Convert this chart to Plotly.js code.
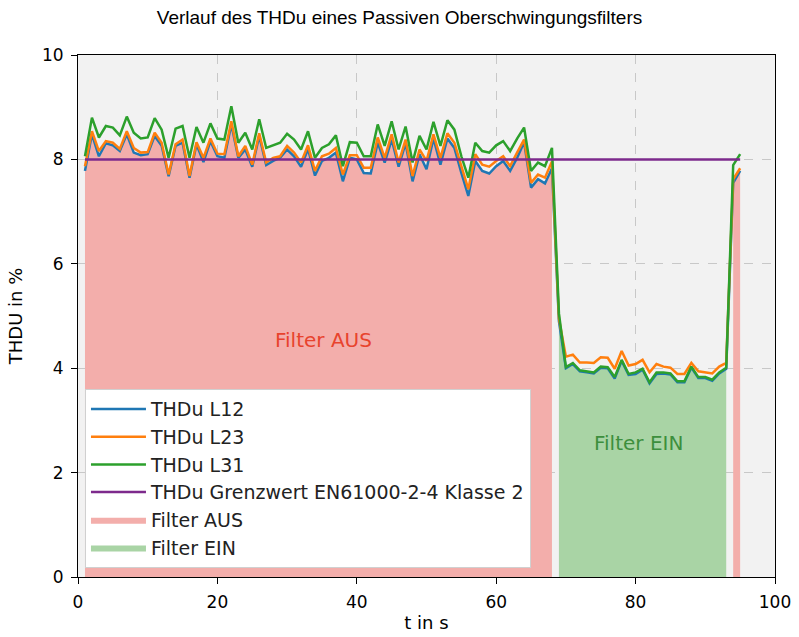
<!DOCTYPE html>
<html>
<head>
<meta charset="utf-8">
<script src="https://cdn.plot.ly/plotly-3.0.1.min.js"></script>
<style>html,body{margin:0;padding:0;background:#fff;}#chart{width:799px;height:637px;}</style>
</head>
<body>
<div id="chart"></div>
<script>
// time in s
const t = [];
for (let i = 1; i <= 95; i++) t.push(i);

const thdL12 = [
  7.78, 8.48, 8.06, 8.31, 8.27, 8.16, 8.48, 8.13, 8.08, 8.10,
  8.45, 8.26, 7.68, 8.26, 8.32, 7.65, 8.29, 7.95, 8.35, 8.06,
  8.03, 8.67, 8.03, 8.19, 7.86, 8.45, 7.89, 7.97, 8.03, 8.19,
  8.06, 7.86, 8.20, 7.69, 7.97, 8.03, 8.13, 7.58, 8.03, 8.00,
  7.74, 7.73, 8.32, 7.94, 8.38, 7.86, 8.31, 7.58, 8.10, 7.81,
  8.40, 7.90, 8.40, 8.22, 7.74, 7.30, 7.97, 7.78, 7.73, 7.87,
  7.97, 7.78, 8.03, 8.33, 7.46, 7.62, 7.54, 7.83,
  4.90, 4.00, 4.08, 3.94, 3.92, 3.90, 4.01, 4.00, 3.80, 4.14,
  3.87, 3.89, 3.97, 3.71, 3.89, 3.90, 3.88, 3.73, 3.73, 4.01,
  3.81, 3.81, 3.76, 3.90, 3.99,
  7.55, 7.78
];
const thdL23 = [
  7.87, 8.54, 8.16, 8.35, 8.32, 8.20, 8.54, 8.22, 8.13, 8.14,
  8.51, 8.32, 7.71, 8.29, 8.38, 7.68, 8.33, 8.03, 8.40, 8.11,
  8.10, 8.73, 8.06, 8.26, 7.90, 8.50, 7.94, 8.03, 8.06, 8.26,
  8.13, 7.94, 8.27, 7.78, 8.06, 8.11, 8.22, 7.71, 8.08, 8.08,
  7.84, 7.84, 8.42, 8.03, 8.48, 7.94, 8.38, 7.68, 8.19, 7.97,
  8.48, 8.03, 8.50, 8.32, 7.87, 7.43, 8.10, 7.90, 7.86, 7.97,
  8.06, 7.87, 8.13, 8.38, 7.55, 7.71, 7.65, 7.96,
  4.95, 4.22, 4.26, 4.11, 4.11, 4.10, 4.21, 4.20, 3.99, 4.33,
  4.05, 4.08, 4.16, 3.92, 4.08, 4.03, 4.01, 3.89, 3.89, 4.10,
  3.94, 3.92, 3.90, 4.03, 4.10,
  7.62, 7.83
];
const thdL31 = [
  8.06, 8.80, 8.42, 8.64, 8.61, 8.46, 8.82, 8.51, 8.40, 8.42,
  8.79, 8.57, 8.03, 8.59, 8.64, 8.03, 8.62, 8.32, 8.69, 8.40,
  8.38, 9.02, 8.32, 8.51, 8.19, 8.77, 8.22, 8.27, 8.32, 8.49,
  8.38, 8.19, 8.54, 8.03, 8.22, 8.29, 8.46, 7.87, 8.33, 8.32,
  8.06, 8.06, 8.67, 8.26, 8.73, 8.19, 8.63, 7.94, 8.45, 8.19,
  8.72, 8.26, 8.75, 8.57, 8.06, 7.65, 8.32, 8.16, 8.13, 8.27,
  8.35, 8.16, 8.40, 8.61, 7.78, 7.94, 7.87, 8.22,
  5.05, 4.02, 4.10, 3.96, 3.94, 3.92, 4.03, 4.02, 3.83, 4.16,
  3.89, 3.92, 3.99, 3.73, 3.92, 3.92, 3.90, 3.75, 3.75, 4.03,
  3.83, 3.83, 3.78, 3.92, 4.01,
  7.89, 8.10
];
const limitT = [1, 95];
const limitVal = [8, 8];

// filter state periods (first and last second, inclusive)
const filterAusPeriods = [[1, 68], [94, 95]];
const filterEinPeriods = [[69, 93]];

const seriesNames = ['THDu L12', 'THDu L23', 'THDu L31', 'THDu Grenzwert EN61000-2-4 Klasse 2', 'Filter AUS', 'Filter EIN'];
const colors = ['#1f77b4', '#ff7f0e', '#2ca02c', '#7d2a8c', '#f3aeab', '#a9d4a5'];

function slicePeriod(p) {
  const xs = [], ys = [];
  for (let i = 0; i < t.length; i++) {
    if (t[i] >= p[0] && t[i] <= p[1]) { xs.push(t[i]); ys.push(thdL12[i]); }
  }
  return {xs, ys};
}

const data = [];
filterAusPeriods.forEach((p, k) => {
  const s = slicePeriod(p);
  data.push({x: s.xs, y: s.ys, type: 'scatter', mode: 'lines', fill: 'tozeroy',
    fillcolor: colors[4], line: {width: 0, color: colors[4]}, name: seriesNames[4],
    legendgroup: 'aus', showlegend: k === 0, legendrank: 5, hoverinfo: 'skip'});
});
filterEinPeriods.forEach((p, k) => {
  const s = slicePeriod(p);
  data.push({x: s.xs, y: s.ys, type: 'scatter', mode: 'lines', fill: 'tozeroy',
    fillcolor: colors[5], line: {width: 0, color: colors[5]}, name: seriesNames[5],
    legendgroup: 'ein', showlegend: k === 0, legendrank: 6, hoverinfo: 'skip'});
});
[thdL12, thdL23, thdL31].forEach((ys, k) => {
  data.push({x: t, y: ys, type: 'scatter', mode: 'lines', name: seriesNames[k],
    line: {color: colors[k], width: 2.5}, legendgroup: 'g' + k, legendrank: k + 1});
});
data.push({x: limitT, y: limitVal, type: 'scatter', mode: 'lines', name: seriesNames[3],
  line: {color: colors[3], width: 2.5}, legendgroup: 'g3', legendrank: 4});

const axisCommon = {
  showline: true, linecolor: '#000', linewidth: 1, mirror: true,
  ticks: 'outside', ticklen: 6, tickcolor: '#000', ticklabelstandoff: 4,
  gridcolor: '#c8c8c8', griddash: 'dash', gridwidth: 1,
  zeroline: false,
  tickfont: {family: 'DejaVu Sans', size: 17, color: '#000'}
};

const layout = {
  width: 799, height: 637,
  margin: {l: 78, r: 24, t: 55, b: 60},
  paper_bgcolor: '#fff', plot_bgcolor: '#f2f2f2',
  title: {text: 'Verlauf des THDu eines Passiven Oberschwingungsfilters',
    font: {family: 'Liberation Sans', size: 19, color: '#000'}, x: 0.5, xanchor: 'center', y: 0.972, yanchor: 'middle'},
  xaxis: Object.assign({}, axisCommon, {range: [0, 100], tickvals: [0, 20, 40, 60, 80, 100],
    title: {text: 't in s', font: {family: 'DejaVu Sans', size: 18, color: '#000'}, standoff: 4}}),
  yaxis: Object.assign({}, axisCommon, {range: [0, 10], tickvals: [0, 2, 4, 6, 8, 10],
    title: {text: 'THDU in %', font: {family: 'DejaVu Sans', size: 18, color: '#000'}, standoff: 14}}),
  showlegend: true,
  legend: {x: 0.01, y: 0.017, xanchor: 'left', yanchor: 'bottom',
    bgcolor: '#ffffff', bordercolor: '#d0d0d0', borderwidth: 1,
    font: {family: 'DejaVu Sans', size: 19, color: '#222'}, traceorder: 'grouped', tracegroupgap: 0,
    itemwidth: 55},
  annotations: [
    {x: 35.2, y: 4.54, xref: 'x', yref: 'y', text: 'Filter AUS', showarrow: false,
      font: {family: 'DejaVu Sans', size: 20, color: '#e8432d'}},
    {x: 80.4, y: 2.57, xref: 'x', yref: 'y', text: 'Filter EIN', showarrow: false,
      font: {family: 'DejaVu Sans', size: 20, color: '#3d8f3d'}}
  ]
};

Plotly.newPlot('chart', data, layout, {displayModeBar: false, staticPlot: true});
</script>
</body>
</html>
